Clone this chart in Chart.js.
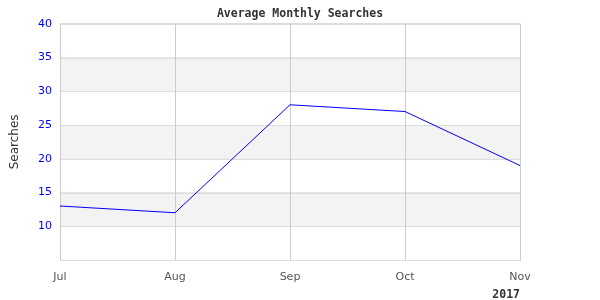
<!DOCTYPE html>
<html>
<head>
<meta charset="utf-8">
<script src="https://cdn.jsdelivr.net/npm/chart.js@4/dist/chart.umd.min.js"></script>
<style>
html,body{margin:0;padding:0;background:#fff;}
#wrap{width:600px;height:300px;}
</style>
</head>
<body>
<div id="wrap"><canvas id="c" width="600" height="300"></canvas></div>
<script>
const categories = ["Jul", "Aug", "Sep", "Oct", "Nov"];
const searches = [13, 12, 28, 27, 19];
const yTicks = [5, 10, 15, 20, 25, 30, 35, 40];
const bands = [[10, 15], [20, 25], [30, 35]];
const yearLabel = "2017";

const bandPlugin = {
  id: 'bands',
  beforeDatasetsDraw(chart) {
    const {ctx, chartArea, scales} = chart;
    ctx.save();
    ctx.fillStyle = '#f3f3f3';
    bands.forEach(([a, b]) => {
      const y1 = scales.y.getPixelForValue(b);
      const y2 = scales.y.getPixelForValue(a);
      ctx.fillRect(chartArea.left, y1, chartArea.right - chartArea.left, y2 - y1);
    });
    ctx.lineWidth = 1;
    ctx.strokeStyle = '#dddddd';
    yTicks.forEach(v => {
      const y = Math.round(scales.y.getPixelForValue(v)) + 0.5;
      ctx.beginPath(); ctx.moveTo(chartArea.left, y); ctx.lineTo(chartArea.right, y); ctx.stroke();
    });
    ctx.strokeStyle = '#cccccc';
    categories.forEach((c, i) => {
      const x = Math.round(scales.x.getPixelForValue(i)) + 0.5;
      ctx.beginPath(); ctx.moveTo(x, chartArea.top); ctx.lineTo(x, chartArea.bottom); ctx.stroke();
    });
    ctx.restore();
  }
};

new Chart(document.getElementById('c'), {
  type: 'line',
  data: {
    labels: categories,
    datasets: [{
      data: searches,
      borderColor: '#0000ff',
      borderWidth: 1,
      pointRadius: 0,
      tension: 0,
      fill: false,
      yAxisID: 'y'
    }]
  },
  options: {
    responsive: false,
    animation: false,
    devicePixelRatio: 1,
    layout: {padding: 0},
    plugins: {
      legend: {display: false},
      tooltip: {enabled: false},
      title: {
        display: true,
        text: 'Average Monthly Searches',
        color: '#333333',
        font: {family: 'DejaVu Sans Mono', size: 11.5, weight: 'bold'},
        padding: {top: 7, bottom: 3}
      }
    },
    scales: {
      x: {
        offset: false,
        grid: {color: '#cccccc', drawTicks: false},
        border: {color: '#dddddd'},
        ticks: {color: '#555555', font: {family: 'DejaVu Sans', size: 11}, padding: 11, maxRotation: 0, autoSkip: false},
        title: {
          display: true,
          text: yearLabel,
          align: 'end',
          color: '#333333',
          font: {family: 'DejaVu Sans Mono', size: 11.5, weight: 'bold'},
          padding: {top: 0, bottom: -2}
        },
        afterFit(scale) { scale.height = 40; }
      },
      y: {
        min: 5,
        max: 40,
        afterBuildTicks(scale) { scale.ticks = yTicks.map(v => ({value: v})); },
        grid: {color: '#dddddd', drawTicks: false},
        border: {color: '#dddddd'},
        ticks: {
          color: '#0000ff',
          font: {family: 'DejaVu Sans', size: 11},
          padding: 8,
          callback: v => v === 5 ? '' : String(v)
        },
        title: {
          display: true,
          text: 'Searches',
          color: '#333333',
          font: {family: 'DejaVu Sans', size: 12},
          padding: {top: 8, bottom: 0}
        },
        afterFit(scale) { scale.width = 60; }
      },
      yRight: {
        position: 'right',
        display: true,
        min: 5,
        max: 40,
        grid: {display: false, drawTicks: false},
        border: {display: false},
        ticks: {display: false},
        afterFit(scale) { scale.width = 80; }
      }
    }
  },
  plugins: [bandPlugin]
});
</script>
</body>
</html>
